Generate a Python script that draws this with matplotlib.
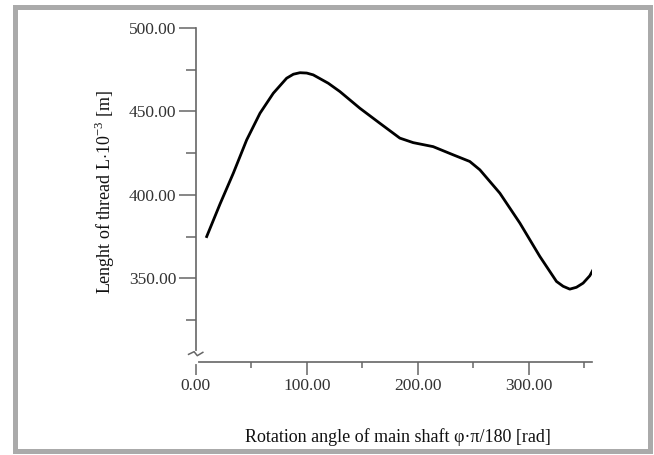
import matplotlib.pyplot as plt
import matplotlib.patches as mpatches

# readings from the reference curve
angle = [9.9, 21.9, 33.9, 45.9, 57.9, 69.9, 81.9, 88.0, 93.9, 100.0, 105.9, 119.4,
         129.9, 147.9, 165.9, 183.9, 195.9, 213.9, 231.9, 246.9, 256.0, 274.0,
         292.0, 310.0, 325.0, 331.0, 337.0, 343.0, 349.0, 355.0, 359.6]
length = [375.0, 394.5, 413.0, 432.9, 448.9, 460.9, 469.9, 472.3, 473.2, 473.0, 471.9, 466.9,
          461.9, 451.9, 442.9, 434.0, 431.3, 428.9, 424.0, 420.0, 415.0, 401.0,
          383.1, 363.1, 348.1, 345.2, 343.5, 344.6, 347.1, 351.5, 357.1]

xticks = [0, 100, 200, 300]
yticks = [350, 400, 450, 500]

plt.rcParams['font.family'] = 'Liberation Serif'
plt.rcParams['mathtext.fontset'] = 'custom'
plt.rcParams['mathtext.rm'] = 'Liberation Serif'

fig = plt.figure(figsize=(6.54, 4.55), dpi=100)
ax = fig.add_axes([195.7/654, 1-361.7/455, (592-195.7)/654, (361.7-28)/455])

ax.plot(angle, length, color='black', lw=2.0, solid_joinstyle='round')

ax.set_xlim(0, 357)
ax.set_ylim(300, 500)
ax.set_xticks(xticks)
ax.set_xticklabels(['%.2f' % v for v in xticks])
ax.set_xticks([50, 150, 250, 350], minor=True)
ax.set_yticks(yticks)
ax.set_yticklabels(['%.2f' % v for v in yticks])
ax.set_yticks([325, 375, 425, 475], minor=True)

for s in ['top', 'right']:
    ax.spines[s].set_visible(False)
for s in ['left', 'bottom']:
    ax.spines[s].set_color('#666666')
    ax.spines[s].set_linewidth(1.2)

ax.tick_params(axis='y', which='major', length=12, width=1.1, color='#666666',
               labelsize=12.5, labelcolor='#333333', pad=2)
ax.tick_params(axis='y', which='minor', length=7, width=1.1, color='#666666')
ax.tick_params(axis='x', which='major', length=9, width=1.1, color='#666666',
               labelsize=12.5, labelcolor='#333333', pad=3)
ax.tick_params(axis='x', which='minor', length=4, width=1.1, color='#666666')

# axis break mark on the y axis
ax.plot([0, 0], [300, 305], color='white', lw=3, clip_on=False, zorder=5)
ax.plot([-0.018, -0.004, 0.004, 0.018], [0.022, 0.03, 0.018, 0.028], color='#666666',
        lw=1.1, transform=ax.transAxes, clip_on=False, zorder=6)

fig.text(105/654, 1-192/455, r'Lenght of thread L$\cdot$10$^{-3}$ [m]', rotation=90,
         ha='center', va='center', fontsize=13, color='#111111')
fig.text(398/654, 1-437/455, 'Rotation angle of main shaft φ·π/180 [rad]',
         ha='center', va='center', fontsize=13, color='#111111')

# gray frame around the picture
fig.patches.append(mpatches.Rectangle((14.5/654, 1-450.5/455), 635/654, 444/455,
                                      transform=fig.transFigure, fill=False,
                                      edgecolor='#aaaaaa', lw=3.6))

fig.savefig('out.png', dpi=100)
